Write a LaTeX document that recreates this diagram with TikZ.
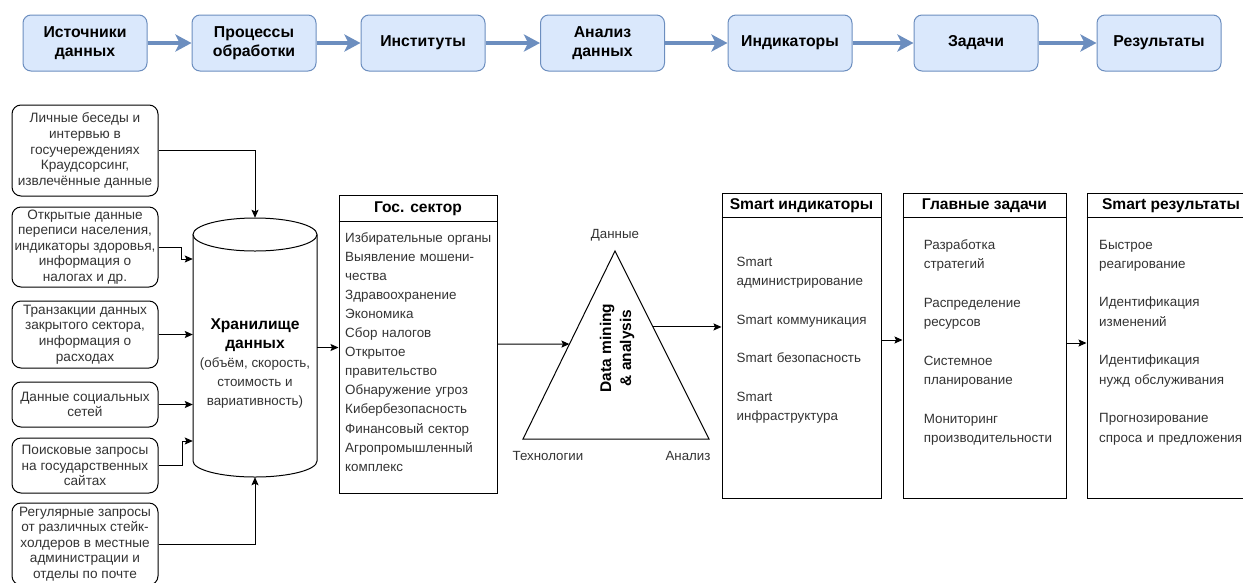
\documentclass[tikz,border=0pt]{standalone}
\usepackage{fontspec}
\setmainfont{Liberation Sans}
\usetikzlibrary{arrows.meta,calc}

\definecolor{flowline}{HTML}{6C8EBF}
\definecolor{flowfill}{HTML}{DAE8FC}

\tikzset{
  flow/.style={draw=flowline, fill=flowfill, line width=1pt, rounded corners=8pt,
    minimum width=124pt, minimum height=56pt, inner sep=2pt, align=center,
    font=\bfseries\fontsize{15.8}{19.5}\selectfont},
  flowarrow/.style={draw=flowline, line width=3.5pt, -{Stealth[length=16pt,width=17pt,inset=4pt]}},
  src/.style={draw, rounded corners=9pt, line width=1pt, minimum width=146pt, inner sep=0pt,
    align=center, font=\fontsize{13.6}{15.6}\selectfont, text=black!80},
  link/.style={line width=1pt, -{Stealth[length=8pt,width=7pt,inset=1.5pt]}},
  listbox/.style={draw, line width=1pt, inner sep=0pt},
  listhead/.style={font=\bfseries\fontsize{15.6}{18}\selectfont},
  listtext/.style={anchor=north west, inner sep=0pt, align=left, text width=175pt,
    font=\fontsize{13.4}{19.3}\selectfont, text=black!80},
  tag/.style={font=\fontsize{13.3}{16}\selectfont, text=black!80},
}

\begin{document}
\begin{tikzpicture}[x=1pt,y=-1pt]
    \useasboundingbox (0,0) rectangle (1243,582);

    % Верхняя цепочка
    \foreach \n/\x/\txt in {t1/85/{Источники\\данных}, t2/254/{Процессы\\обработки},
      t3/423/{Институты}, t4/602.5/{Анализ\\данных}, t5/790/{Индикаторы},
      t6/976/{Задачи}, t7/1159/{Результаты}} {
      \node[flow] (\n) at (\x,43) {\txt};
    }
    \foreach \a/\b in {t1/t2, t2/t3, t3/t4, t4/t5, t5/t6} {
      \draw[flowarrow] (\a) -- (\b);
    }
    \draw[flowarrow, line width=4.5pt] (t6) -- (t7);

    % Источники данных
    \node[src, minimum height=91pt] (srcA) at (85,150.5) {Личные беседы и\\интервью в\\госучереждениях\\Краудсорсинг,\\извлечённые данные};
    \node[src, minimum height=80pt] (srcB) at (85,247) {Открытые данные\\переписи населения,\\индикаторы здоровья,\\информация о\\налогах и др.};
    \node[src, minimum height=67pt] (srcC) at (85,334.5) {Транзакции данных\\закрытого сектора,\\информация о\\расходах};
    \node[src, minimum height=45pt] (srcD) at (85,404.5) {Данные социальных\\сетей};
    \node[src, minimum height=55pt] (srcE) at (85,465.5) {Поисковые запросы\\на государственных\\сайтах};
    \node[src, minimum height=82pt] (srcF) at (85,544) {Регулярные запросы\\от различных стейк-\\холдеров в местные\\администрации и\\отделы по почте};

    % Хранилище (цилиндр)
    \node[minimum width=124pt, minimum height=259pt, inner sep=0pt] (store) at (255,347.5) {};
    \draw[line width=1pt] (255,234.5) ellipse [x radius=62pt, y radius=16.5pt];
    \draw[line width=1pt] (193,234.5) -- (193,461)
      arc[start angle=180, end angle=360, x radius=62pt, y radius=16pt] -- (317,234.5);
    \node[align=center, font=\fontsize{13.4}{19}\selectfont, text=black!80] (store text) at (255,363.5)
      {{\bfseries\fontsize{15.6}{19}\selectfont\color{black}Хранилище}\\{\bfseries\fontsize{15.6}{19}\selectfont\color{black}данных}\\(объём, скорость,\\стоимость и\\вариативность)};

    % Стрелки в хранилище
    \draw[link] (srcA.east) -| (store.north);
    \draw[link] (srcB.east) -- ++(23,0) |- ([yshift=88.5pt]store.west);
    \draw[link] (srcC.east) -- (srcC.east -| store.west);
    \draw[link] (srcD.east) -- (srcD.east -| store.west);
    \draw[link] (srcE.east) -- ++(24,0) |- ([yshift=-93.5pt]store.west);
    \draw[link] (srcF.east) -| (store.south);

    % Гос. сектор
    \node[listbox, minimum width=158pt, minimum height=298pt] (gos) at (418,344) {};
    \draw[line width=1pt] ([yshift=-27pt]gos.north west) -- ([yshift=-27pt]gos.north east);
    \node[listhead] (gos head) at (418,208.5) {Гос. сектор};
    \node[listtext, font=\fontsize{13.4}{19.1}\selectfont] (gos list) at (345,232)
      {Избирательные органы\\Выявление мошени-\\чества\\Здравоохранение\\Экономика\\Сбор налогов\\Открытое\\правительство\\Обнаружение угроз\\Кибербезопасность\\Финансовый сектор\\Агропромышленный\\комплекс};
    \draw[link] (store.east) -- (store.east -| gos.west);

    % Треугольник
    \coordinate (tri top) at (615,251);
    \coordinate (tri left) at (523,439);
    \coordinate (tri right) at (709,439);
    \draw[line width=1pt] (tri top) -- (tri left) -- (tri right) -- cycle;
    \node[tag] (lbl data) at (615,235) {Данные};
    \node[tag] (lbl tech) at (548,456) {Технологии};
    \node[tag] (lbl anal) at (688,456) {Анализ};
    \node[rotate=90, align=center, font=\bfseries\fontsize{15.5}{20}\selectfont] (mining) at (617,348)
      {Data mining\\\& analysis};
    \coordinate (mine in) at ($(tri left)!0.505!(tri top)$);
    \coordinate (mine out) at ($(tri right)!0.596!(tri top)$);
    \draw[link] (gos.east) -- (mine in);

    % Smart индикаторы
    \node[listbox, minimum width=159pt, minimum height=305pt] (ind) at (801.5,345.5) {};
    \draw[line width=1pt] ([yshift=-25pt]ind.north west) -- ([yshift=-25pt]ind.north east);
    \node[listhead] (ind head) at (801.5,205.5) {Smart индикаторы};
    \node[listtext] (ind list) at (736.5,256.6)
      {Smart\\администрирование\\[19.3pt]Smart коммуникация\\[19.3pt]Smart безопасность\\[19.3pt]Smart\\инфраструктура};
    \draw[link] (mine out) -- (mine out -| ind.west);

    % Главные задачи
    \node[listbox, minimum width=163pt, minimum height=305pt] (zad) at (984.5,345.5) {};
    \draw[line width=1pt] ([yshift=-25pt]zad.north west) -- ([yshift=-25pt]zad.north east);
    \node[listhead] (zad head) at (984.5,205.5) {Главные задачи};
    \node[listtext] (zad list) at (923.6,239.6)
      {Разработка\\стратегий\\[19.3pt]Распределение\\ресурсов\\[19.3pt]Системное\\планирование\\[19.3pt]Мониторинг\\производительности};
    \draw[link] ([yshift=5.5pt]ind.east) -- ([yshift=5.5pt]zad.west);

    % Smart результаты
    \node[listbox, minimum width=166pt, minimum height=305pt] (res) at (1170,345.5) {};
    \draw[line width=1pt] ([yshift=-25pt]res.north west) -- ([yshift=-25pt]res.north east);
    \node[listhead] (res head) at (1171,205.5) {Smart результаты};
    \node[listtext] (res list) at (1099,239.6)
      {Быстрое\\реагирование\\[19.3pt]Идентификация\\изменений\\[19.3pt]Идентификация\\нужд обслуживания\\[19.3pt]Прогнозирование\\спроса и предложения};
    \draw[link] ([yshift=2.5pt]zad.east) -- ([yshift=2.5pt]res.west);

\end{tikzpicture}
\end{document}
